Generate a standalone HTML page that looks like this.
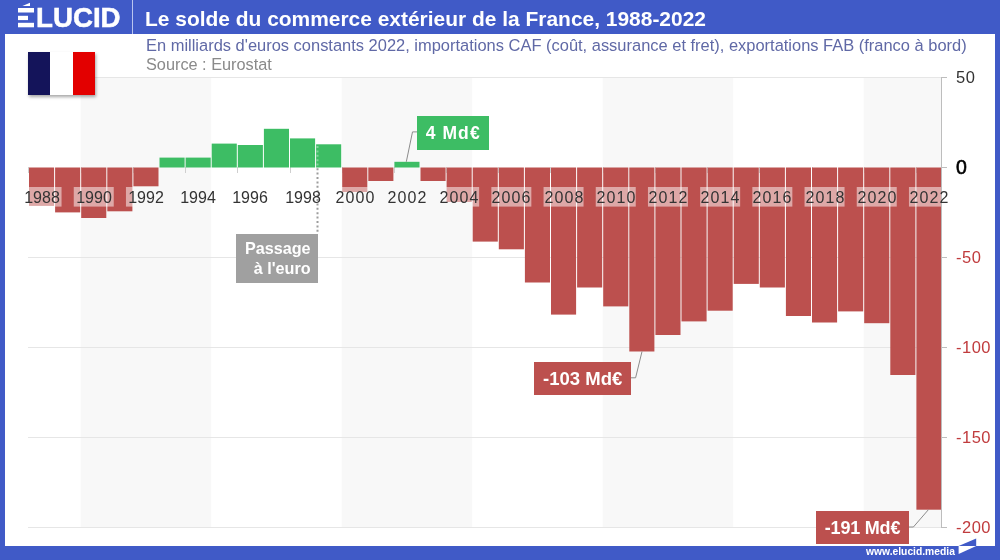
<!DOCTYPE html>
<html><head><meta charset="utf-8">
<style>
*{margin:0;padding:0;box-sizing:border-box}
html,body{width:1000px;height:560px;overflow:hidden;background:#405ac7}
body{position:relative;font-family:"Liberation Sans",sans-serif}
#card{position:absolute;left:5px;top:34px;width:990px;height:512px;background:#fff}
.abs{position:absolute;white-space:nowrap}
*{-webkit-font-smoothing:antialiased}
body>div,body>svg{will-change:transform}
#title{left:145px;top:6.5px;font-size:20.95px;font-weight:700;color:#fff;line-height:24px}
#sep{position:absolute;left:132px;top:0;width:1px;height:34px;background:#b9c4ef}
#sub{left:145.5px;top:36.4px;font-size:16.47px;color:#6069a6;line-height:18px}
#src{left:146px;top:54.7px;font-size:16.3px;color:#8a8a8a;line-height:18px}
#flag{position:absolute;left:28px;top:52px;width:67px;height:43px;box-shadow:1px 2px 3px rgba(0,0,0,0.35);display:flex}
#flag div{flex:1}
svg.chart{position:absolute;left:0;top:0}
.yr{position:absolute;top:187.5px;width:60px;text-align:center;font-size:16px;letter-spacing:1.1px;text-indent:1.1px;color:#333;line-height:19px}
.ax{position:absolute;left:956px;font-size:16.5px;line-height:18px;color:#c03b3d;letter-spacing:0.5px}
.lab{position:absolute;color:#fff;font-weight:700;text-align:center;white-space:nowrap}
#foot{left:866px;top:545.7px;font-size:10.3px;font-weight:700;color:#fff;line-height:12px}
</style></head><body>
<div id="card"></div>
<svg width="140" height="34" style="position:absolute;left:0;top:0">
<rect x="18" y="8" width="16" height="4.5" fill="#fff"/>
<rect x="18" y="15.8" width="10" height="4.3" fill="#fff"/>
<rect x="18" y="22.8" width="16" height="4.5" fill="#fff"/>
<polygon points="22.4,6.1 30,2.7 30,6.1" fill="#fff"/>
</svg>
<div class="abs" style="left:35.6px;top:3.7px;font-size:27.7px;font-weight:700;color:#fff;line-height:28px;-webkit-text-stroke:0.5px #fff">LUCID</div>
<div id="sep"></div>
<div class="abs" id="title">Le solde du commerce extérieur de la France, 1988-2022</div>
<div class="abs" id="sub">En milliards d'euros constants 2022, importations CAF (coût, assurance et fret), exportations FAB (franco à bord)</div>
<div class="abs" id="src">Source : Eurostat</div>
<svg class="chart" width="1000" height="560">
<rect x="80.70" y="77" width="130.50" height="451" fill="#f8f8f8"/>
<rect x="341.70" y="77" width="130.50" height="451" fill="#f8f8f8"/>
<rect x="602.70" y="77" width="130.50" height="451" fill="#f8f8f8"/>
<rect x="863.70" y="77" width="78.30" height="451" fill="#f8f8f8"/>
<rect x="28" y="77" width="914" height="1" fill="#e6e6e6"/>
<rect x="28" y="257" width="914" height="1" fill="#e6e6e6"/>
<rect x="28" y="347" width="914" height="1" fill="#e6e6e6"/>
<rect x="28" y="437" width="914" height="1" fill="#e6e6e6"/>
<rect x="28" y="527" width="914" height="1" fill="#e6e6e6"/>
<rect x="28" y="167" width="1" height="6" fill="#cfcfcf"/>
<rect x="81" y="167" width="1" height="6" fill="#cfcfcf"/>
<rect x="133" y="167" width="1" height="6" fill="#cfcfcf"/>
<rect x="185" y="167" width="1" height="6" fill="#cfcfcf"/>
<rect x="237" y="167" width="1" height="6" fill="#cfcfcf"/>
<rect x="290" y="167" width="1" height="6" fill="#cfcfcf"/>
<rect x="342" y="167" width="1" height="6" fill="#cfcfcf"/>
<rect x="394" y="167" width="1" height="6" fill="#cfcfcf"/>
<rect x="446" y="167" width="1" height="6" fill="#cfcfcf"/>
<rect x="498" y="167" width="1" height="6" fill="#cfcfcf"/>
<rect x="550" y="167" width="1" height="6" fill="#cfcfcf"/>
<rect x="603" y="167" width="1" height="6" fill="#cfcfcf"/>
<rect x="655" y="167" width="1" height="6" fill="#cfcfcf"/>
<rect x="707" y="167" width="1" height="6" fill="#cfcfcf"/>
<rect x="759" y="167" width="1" height="6" fill="#cfcfcf"/>
<rect x="812" y="167" width="1" height="6" fill="#cfcfcf"/>
<rect x="864" y="167" width="1" height="6" fill="#cfcfcf"/>
<rect x="916" y="167" width="1" height="6" fill="#cfcfcf"/>
<rect x="29.00" y="167.50" width="25.10" height="38.10" fill="#bc504e"/>
<rect x="55.10" y="167.50" width="25.10" height="44.90" fill="#bc504e"/>
<rect x="81.20" y="167.50" width="25.10" height="50.50" fill="#bc504e"/>
<rect x="107.30" y="167.50" width="25.10" height="43.80" fill="#bc504e"/>
<rect x="133.40" y="167.50" width="25.10" height="18.80" fill="#bc504e"/>
<rect x="159.50" y="157.60" width="25.10" height="9.90" fill="#3dbd64"/>
<rect x="185.60" y="157.60" width="25.10" height="9.90" fill="#3dbd64"/>
<rect x="211.70" y="143.60" width="25.10" height="23.90" fill="#3dbd64"/>
<rect x="237.80" y="145.00" width="25.10" height="22.50" fill="#3dbd64"/>
<rect x="263.90" y="128.80" width="25.10" height="38.70" fill="#3dbd64"/>
<rect x="290.00" y="138.40" width="25.10" height="29.10" fill="#3dbd64"/>
<rect x="316.10" y="144.30" width="25.10" height="23.20" fill="#3dbd64"/>
<rect x="342.20" y="167.50" width="25.10" height="24.30" fill="#bc504e"/>
<rect x="368.30" y="167.50" width="25.10" height="13.50" fill="#bc504e"/>
<rect x="394.40" y="161.80" width="25.10" height="5.70" fill="#3dbd64"/>
<rect x="420.50" y="167.50" width="25.10" height="13.50" fill="#bc504e"/>
<rect x="446.60" y="167.50" width="25.10" height="34.30" fill="#bc504e"/>
<rect x="472.70" y="167.50" width="25.10" height="74.10" fill="#bc504e"/>
<rect x="498.80" y="167.50" width="25.10" height="81.80" fill="#bc504e"/>
<rect x="524.90" y="167.50" width="25.10" height="115.00" fill="#bc504e"/>
<rect x="551.00" y="167.50" width="25.10" height="147.10" fill="#bc504e"/>
<rect x="577.10" y="167.50" width="25.10" height="120.00" fill="#bc504e"/>
<rect x="603.20" y="167.50" width="25.10" height="138.90" fill="#bc504e"/>
<rect x="629.30" y="167.50" width="25.10" height="184.00" fill="#bc504e"/>
<rect x="655.40" y="167.50" width="25.10" height="167.50" fill="#bc504e"/>
<rect x="681.50" y="167.50" width="25.10" height="153.90" fill="#bc504e"/>
<rect x="707.60" y="167.50" width="25.10" height="143.20" fill="#bc504e"/>
<rect x="733.70" y="167.50" width="25.10" height="116.40" fill="#bc504e"/>
<rect x="759.80" y="167.50" width="25.10" height="120.00" fill="#bc504e"/>
<rect x="785.90" y="167.50" width="25.10" height="148.50" fill="#bc504e"/>
<rect x="812.00" y="167.50" width="25.10" height="155.00" fill="#bc504e"/>
<rect x="838.10" y="167.50" width="25.10" height="143.90" fill="#bc504e"/>
<rect x="864.20" y="167.50" width="25.10" height="155.70" fill="#bc504e"/>
<rect x="890.30" y="167.50" width="25.10" height="207.50" fill="#bc504e"/>
<rect x="916.40" y="167.50" width="25.10" height="342.20" fill="#bc504e"/>
<clipPath id="bc"><rect x="28.50" y="167.5" width="26.10" height="38.10"/><rect x="54.60" y="167.5" width="26.10" height="44.90"/><rect x="80.70" y="167.5" width="26.10" height="50.50"/><rect x="106.80" y="167.5" width="26.10" height="43.80"/><rect x="132.90" y="167.5" width="26.10" height="18.80"/><rect x="341.70" y="167.5" width="26.10" height="24.30"/><rect x="367.80" y="167.5" width="26.10" height="13.50"/><rect x="420.00" y="167.5" width="26.10" height="13.50"/><rect x="446.10" y="167.5" width="26.10" height="34.30"/><rect x="472.20" y="167.5" width="26.10" height="74.10"/><rect x="498.30" y="167.5" width="26.10" height="81.80"/><rect x="524.40" y="167.5" width="26.10" height="115.00"/><rect x="550.50" y="167.5" width="26.10" height="147.10"/><rect x="576.60" y="167.5" width="26.10" height="120.00"/><rect x="602.70" y="167.5" width="26.10" height="138.90"/><rect x="628.80" y="167.5" width="26.10" height="184.00"/><rect x="654.90" y="167.5" width="26.10" height="167.50"/><rect x="681.00" y="167.5" width="26.10" height="153.90"/><rect x="707.10" y="167.5" width="26.10" height="143.20"/><rect x="733.20" y="167.5" width="26.10" height="116.40"/><rect x="759.30" y="167.5" width="26.10" height="120.00"/><rect x="785.40" y="167.5" width="26.10" height="148.50"/><rect x="811.50" y="167.5" width="26.10" height="155.00"/><rect x="837.60" y="167.5" width="26.10" height="143.90"/><rect x="863.70" y="167.5" width="26.10" height="155.70"/><rect x="889.80" y="167.5" width="26.10" height="207.50"/><rect x="915.90" y="167.5" width="26.10" height="342.20"/></clipPath><g clip-path="url(#bc)">
<rect x="21.55" y="187" width="40" height="19.6" fill="#fff" fill-opacity="0.5"/>
<rect x="73.75" y="187" width="40" height="19.6" fill="#fff" fill-opacity="0.5"/>
<rect x="125.95" y="187" width="40" height="19.6" fill="#fff" fill-opacity="0.5"/>
<rect x="178.15" y="187" width="40" height="19.6" fill="#fff" fill-opacity="0.5"/>
<rect x="230.35" y="187" width="40" height="19.6" fill="#fff" fill-opacity="0.5"/>
<rect x="282.55" y="187" width="40" height="19.6" fill="#fff" fill-opacity="0.5"/>
<rect x="334.75" y="187" width="40" height="19.6" fill="#fff" fill-opacity="0.5"/>
<rect x="386.95" y="187" width="40" height="19.6" fill="#fff" fill-opacity="0.5"/>
<rect x="439.15" y="187" width="40" height="19.6" fill="#fff" fill-opacity="0.5"/>
<rect x="491.35" y="187" width="40" height="19.6" fill="#fff" fill-opacity="0.5"/>
<rect x="543.55" y="187" width="40" height="19.6" fill="#fff" fill-opacity="0.5"/>
<rect x="595.75" y="187" width="40" height="19.6" fill="#fff" fill-opacity="0.5"/>
<rect x="647.95" y="187" width="40" height="19.6" fill="#fff" fill-opacity="0.5"/>
<rect x="700.15" y="187" width="40" height="19.6" fill="#fff" fill-opacity="0.5"/>
<rect x="752.35" y="187" width="40" height="19.6" fill="#fff" fill-opacity="0.5"/>
<rect x="804.55" y="187" width="40" height="19.6" fill="#fff" fill-opacity="0.5"/>
<rect x="856.75" y="187" width="40" height="19.6" fill="#fff" fill-opacity="0.5"/>
<rect x="908.95" y="187" width="40" height="19.6" fill="#fff" fill-opacity="0.5"/>
</g>
<rect x="941" y="77" width="1" height="451" fill="#bdbdbd"/>
<rect x="942" y="77" width="5" height="1" fill="#bdbdbd"/>
<rect x="942" y="167" width="5" height="1" fill="#bdbdbd"/>
<rect x="942" y="257" width="5" height="1" fill="#bdbdbd"/>
<rect x="942" y="347" width="5" height="1" fill="#bdbdbd"/>
<rect x="942" y="437" width="5" height="1" fill="#bdbdbd"/>
<rect x="942" y="527" width="5" height="1" fill="#bdbdbd"/>
<line x1="317.5" y1="146" x2="317.5" y2="167" stroke="#fff" stroke-opacity="0.35" stroke-width="2" stroke-dasharray="2,2.4"/>
<line x1="317.5" y1="168.2" x2="317.5" y2="234" stroke="#9d9d9d" stroke-width="2" stroke-dasharray="2,2.4"/>
<polyline points="406.3,161.8 412.5,131.9 417,131.9" fill="none" stroke="#8c8c8c" stroke-width="1"/>
<polyline points="642,351.5 635.6,377.8 631,377.8" fill="none" stroke="#8c8c8c" stroke-width="1"/>
<polyline points="928.4,509.7 913.4,527 909,527" fill="none" stroke="#8c8c8c" stroke-width="1"/>
</svg>
<div id="flag"><div style="background:#14145a"></div><div style="background:#fff"></div><div style="background:#e30000"></div></div>
<div class="yr" style="left:11.55px;letter-spacing:0;text-indent:0">1988</div>
<div class="yr" style="left:63.75px;letter-spacing:0;text-indent:0">1990</div>
<div class="yr" style="left:115.95px;letter-spacing:0;text-indent:0">1992</div>
<div class="yr" style="left:168.15px;letter-spacing:0;text-indent:0">1994</div>
<div class="yr" style="left:220.35px;letter-spacing:0;text-indent:0">1996</div>
<div class="yr" style="left:272.55px;letter-spacing:0;text-indent:0">1998</div>
<div class="yr" style="left:324.75px">2000</div>
<div class="yr" style="left:376.95px">2002</div>
<div class="yr" style="left:429.15px">2004</div>
<div class="yr" style="left:481.35px">2006</div>
<div class="yr" style="left:533.55px">2008</div>
<div class="yr" style="left:585.75px">2010</div>
<div class="yr" style="left:637.95px">2012</div>
<div class="yr" style="left:690.15px">2014</div>
<div class="yr" style="left:742.35px">2016</div>
<div class="yr" style="left:794.55px">2018</div>
<div class="yr" style="left:846.75px">2020</div>
<div class="yr" style="left:898.95px">2022</div>
<div class="ax" style="top:68px;color:#333">50</div>
<div class="ax" style="top:157px;color:#000;font-weight:400;font-size:19.5px;line-height:20px;-webkit-text-stroke:0.6px #000">0</div>
<div class="ax" style="top:248px">-50</div>
<div class="ax" style="top:338px">-100</div>
<div class="ax" style="top:428px">-150</div>
<div class="ax" style="top:518px">-200</div>
<div class="lab" style="left:416.6px;top:115.6px;width:72.4px;height:33.8px;background:#3dbd64;font-size:17.5px;letter-spacing:1.1px;line-height:35px">4 Md€</div>
<div class="lab" style="left:236.3px;top:234px;width:81.8px;height:48.5px;background:#a0a0a0;font-size:16.5px;line-height:19.7px;text-align:right;padding:5.2px 7.2px 0 0;font-size:16.2px">Passage<br>à l'euro</div>
<div class="lab" style="left:534.1px;top:362.1px;width:97.3px;height:33.2px;background:#bc504e;font-size:18.5px;line-height:33px">-103 Md€</div>
<div class="lab" style="left:816.3px;top:511.2px;width:93px;height:32.5px;background:#bc504e;font-size:18px;letter-spacing:-0.2px;line-height:35.5px">-191 Md€</div>
<div class="abs" id="foot">www.elucid.media</div>
<svg width="30" height="20" style="position:absolute;left:950px;top:536px">
<polygon points="8.6,10 26.2,2.6 26.2,10" fill="#405ac7"/>
<polygon points="8.6,10 26.2,10 8.6,18.1" fill="#fff"/>
</svg>
</body></html>
